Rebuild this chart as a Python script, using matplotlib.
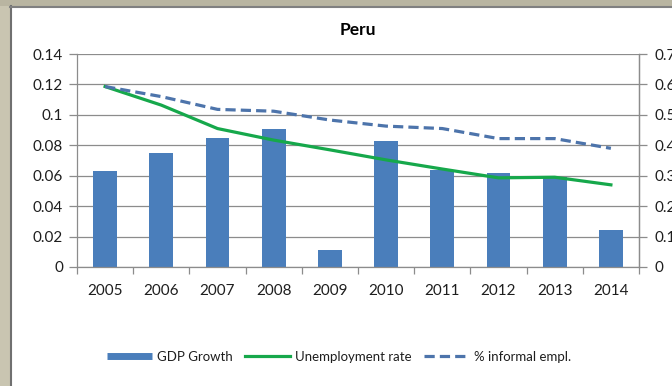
import numpy as np
import matplotlib
matplotlib.use("Agg")
import matplotlib.pyplot as plt
from matplotlib.lines import Line2D
from matplotlib.patches import Rectangle

years = ["2005", "2006", "2007", "2008", "2009", "2010", "2011", "2012", "2013", "2014"]
gdp_growth = [0.063, 0.075, 0.085, 0.091, 0.011, 0.083, 0.064, 0.062, 0.059, 0.024]
unemployment = [0.593, 0.532, 0.455, 0.417, 0.385, 0.352, 0.322, 0.293, 0.295, 0.270]
informal_empl = [0.593, 0.560, 0.518, 0.512, 0.483, 0.463, 0.455, 0.422, 0.422, 0.390]

BAR_BLUE = "#4a7ebb"
GREEN = "#16a84b"
DASH_BLUE = "#4d74ab"
GRID = "#8c8c8c"
TXT = "#1e1e1e"


def main():
    plt.rcParams['font.family'] = ['Lato', 'DejaVu Sans']
    fig = plt.figure(figsize=(6.72, 3.86), dpi=100)
    W, H = 672, 386

    # beige window frame on the left and top
    fig.patches.append(Rectangle((0, 0), 10 / W, 1, transform=fig.transFigure,
                                 facecolor="#c9c5b1", edgecolor="none", zorder=-2))
    fig.patches.append(Rectangle((0, 1 - 6 / H), 1, 6 / H, transform=fig.transFigure,
                                 facecolor="#b9b5a1", edgecolor="none", zorder=-2))
    fig.add_artist(Line2D([10.5 / W, 10.5 / W], [0, 1 - 6 / H], transform=fig.transFigure,
                          color="#707070", lw=1.5))
    fig.add_artist(Line2D([10 / W, 1], [1 - 6.5 / H, 1 - 6.5 / H], transform=fig.transFigure,
                          color="#808080", lw=1.5))

    ax = fig.add_axes([77 / W, 119 / H, 562 / W, 213 / H])
    x = np.arange(len(years))
    ax.bar(x, gdp_growth, width=0.42, color=BAR_BLUE, zorder=2)
    ax.set_xlim(-0.5, len(years) - 0.5)
    ax.set_ylim(0, 0.14)
    ax.set_yticks(np.arange(0, 0.141, 0.02))
    ax.set_yticklabels(["0", "0.02", "0.04", "0.06", "0.08", "0.1", "0.12", "0.14"])
    ax.yaxis.grid(True, color=GRID, lw=0.9, zorder=0)
    ax.set_axisbelow(True)

    ax.set_xticks(x)
    ax.set_xticklabels(years)
    ax.set_xticks(np.arange(-0.5, len(years)), minor=True)
    ax.tick_params(axis="x", which="major", length=0, pad=12, labelsize=11, labelcolor=TXT)
    ax.tick_params(axis="x", which="minor", length=5, width=0.9, color=GRID, direction="out")
    ax.tick_params(axis="y", length=6, width=0.9, color=GRID, pad=4, labelsize=11, labelcolor=TXT)

    ax.spines["top"].set_visible(False)
    for side in ["left", "bottom", "right"]:
        ax.spines[side].set_color(GRID)
        ax.spines[side].set_linewidth(0.9)

    ax2 = ax.twinx()
    ax2.plot(x, unemployment, color=GREEN, lw=2.3, zorder=3)
    ax2.plot(x, informal_empl, color=DASH_BLUE, lw=2.3, dashes=(3.2, 1.6), zorder=3)
    ax2.set_ylim(0, 0.7)
    ax2.set_yticks(np.arange(0, 0.71, 0.1))
    ax2.set_yticklabels(["0", "0.1", "0.2", "0.3", "0.4", "0.5", "0.6", "0.7"])
    ax2.tick_params(axis="y", length=6, width=0.9, color=GRID, pad=5, labelsize=11, labelcolor=TXT)
    for side in ["top", "left", "bottom"]:
        ax2.spines[side].set_visible(False)
    ax2.spines["right"].set_color(GRID)
    ax2.spines["right"].set_linewidth(0.9)

    ax.set_title("Peru", fontsize=12.5, fontweight="bold", color="black", pad=14)

    handles = [
        Line2D([], [], color=BAR_BLUE, lw=5, solid_capstyle="butt"),
        Line2D([], [], color=GREEN, lw=2.3),
        Line2D([], [], color=DASH_BLUE, lw=2.3, dashes=(3.2, 1.6)),
    ]
    fig.legend(handles, ["GDP Growth", "Unemployment rate", "% informal empl."],
               loc="center", bbox_to_anchor=(339 / W, 1 - 357 / H), ncol=3,
               frameon=False, fontsize=9.5, handlelength=3.4, handletextpad=0.4,
               columnspacing=0.9, labelcolor=TXT)

    fig.savefig("out.png", dpi=100)


if __name__ == "__main__":
    main()
